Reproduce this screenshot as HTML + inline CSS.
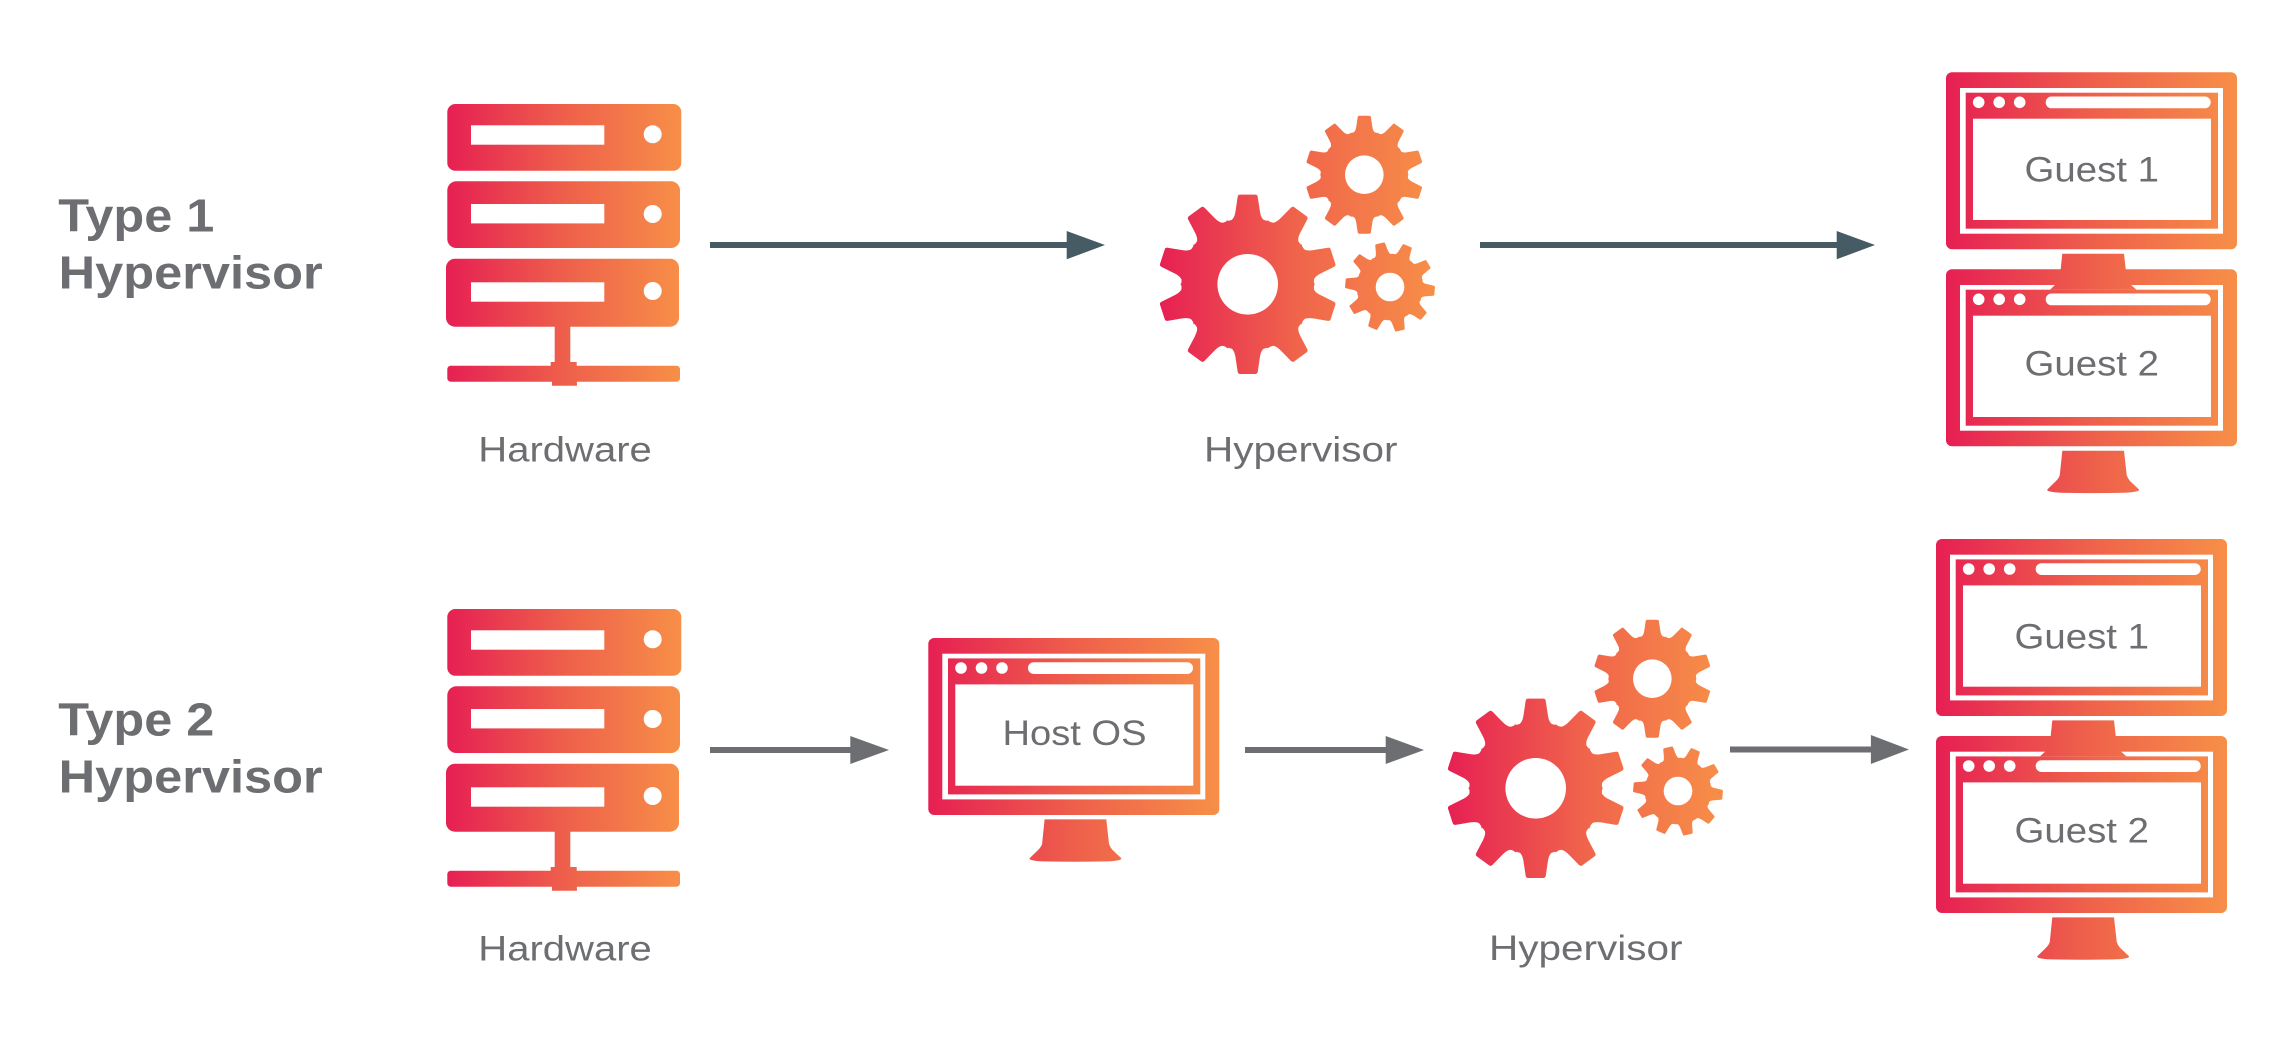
<!DOCTYPE html>
<html>
<head>
<meta charset="utf-8">
<title>Type 1 and Type 2 Hypervisor</title>
<style>
html,body{margin:0;padding:0;background:#fff;width:2296px;height:1042px;overflow:hidden}
svg{display:block}
text{font-family:"Liberation Sans",sans-serif;fill:#6d6e71}
.l{font-size:35px}
.t{font-size:46px;font-weight:bold}
</style>
</head>
<body>
<svg xmlns="http://www.w3.org/2000/svg" width="2296" height="1042" viewBox="0 0 2296 1042">
<defs>
<linearGradient id="gs" gradientUnits="userSpaceOnUse" x1="446" y1="0" x2="681" y2="0">
<stop offset="0" stop-color="#e61f53"/><stop offset=".5" stop-color="#ee5f4b"/><stop offset="1" stop-color="#f78f48"/>
</linearGradient>
<linearGradient id="gg" gradientUnits="userSpaceOnUse" x1="1158" y1="0" x2="1436" y2="0">
<stop offset="0" stop-color="#e61f53"/><stop offset=".5" stop-color="#f0644b"/><stop offset="1" stop-color="#f78f48"/>
</linearGradient>
<linearGradient id="gm" gradientUnits="userSpaceOnUse" x1="1946" y1="0" x2="2237" y2="0">
<stop offset="0" stop-color="#e61f53"/><stop offset=".5" stop-color="#ee5f4b"/><stop offset="1" stop-color="#f78f48"/>
</linearGradient>

<path id="tooth" d="M-.24,-.71C-.17,-.69 -.145,-.75 -.135,-.82L-.112,-.975Q-.108,-1 -.085,-1L.085,-1Q.108,-1 .112,-.975L.135,-.82C.145,-.75 .17,-.69 .24,-.71L0,0Z"/>
<g id="gear">
<circle r=".74"/>
<use href="#tooth"/>
<use href="#tooth" transform="rotate(36)"/>
<use href="#tooth" transform="rotate(72)"/>
<use href="#tooth" transform="rotate(108)"/>
<use href="#tooth" transform="rotate(144)"/>
<use href="#tooth" transform="rotate(180)"/>
<use href="#tooth" transform="rotate(216)"/>
<use href="#tooth" transform="rotate(252)"/>
<use href="#tooth" transform="rotate(288)"/>
<use href="#tooth" transform="rotate(324)"/>
</g>
<mask id="gm1" maskUnits="userSpaceOnUse" x="1140" y="100" width="320" height="300">
<g fill="#fff">
<use href="#gear" transform="translate(1247.7,284.3) scale(89.7)"/>
<use href="#gear" transform="translate(1364.3,174.7) scale(59)"/>
<use href="#gear" transform="translate(1390,287) rotate(-13) scale(44.8)"/>
</g>
<g fill="#000">
<circle cx="1247.7" cy="284.3" r="30.3"/>
<circle cx="1364.3" cy="174.7" r="19.3"/>
<circle cx="1390" cy="287" r="14.3"/>
</g>
</mask>
<g id="gears">
<rect x="1140" y="100" width="320" height="300" fill="url(#gg)" mask="url(#gm1)"/>
</g>

<g id="server">
<g fill="url(#gs)">
<rect x="447.3" y="104" width="234" height="66.7" rx="8"/>
<rect x="447.3" y="181.3" width="232.7" height="66.7" rx="9"/>
<rect x="446" y="258.7" width="233" height="68" rx="9"/>
<rect x="554.7" y="326" width="15.6" height="38"/>
<rect x="447.3" y="365.7" width="232.7" height="16" rx="3.5"/>
<path d="M550.7,362H576.7V375L577,385.7H552V375H550.7Z"/>
</g>
<g fill="#fff">
<rect x="471" y="125.3" width="133.3" height="19.4"/>
<rect x="471" y="204" width="133.3" height="19.4"/>
<rect x="471" y="282.3" width="133.3" height="19.4"/>
<circle cx="652.7" cy="134.3" r="9"/>
<circle cx="652.7" cy="214" r="9"/>
<circle cx="652.7" cy="291" r="9"/>
</g>
</g>

<g id="body">
<rect x="1946" y="72.3" width="291" height="177" rx="6" fill="url(#gm)"/>
<rect x="1960" y="88" width="263" height="145.7" fill="#fff"/>
<rect x="1965.7" y="92.7" width="252.3" height="136" fill="url(#gm)"/>
<rect x="1973" y="118.7" width="238" height="101.3" fill="#fff"/>
<circle cx="1978.7" cy="102.3" r="5.8" fill="#fff"/>
<circle cx="1999.2" cy="102.3" r="5.8" fill="#fff"/>
<circle cx="2019.7" cy="102.3" r="5.8" fill="#fff"/>
<rect x="2045.7" y="96.5" width="165" height="11.8" rx="5.9" fill="#fff"/>
</g>
<path id="stand" fill="url(#gm)" d="M2062.3,253.7H2124L2126.7,278Q2127.5,281 2130,284L2139,292.5Q2140,295 2125,295.7Q2093,296.5 2061,295.7Q2046,295 2047.3,292.5L2056,284Q2059,281 2059.8,278Z"/>
<path id="standTop" fill="url(#gm)" d="M2062.3,253.7H2124L2126.7,278Q2127.5,281 2130,284L2136.5,289.7H2050L2056,284Q2059,281 2059.8,278Z"/>

<g id="pair">
<use href="#body"/>
<use href="#body" y="197"/>
<use href="#standTop"/>
<use href="#stand" y="197"/>
</g>
</defs>

<!-- Titles -->
<text class="t" x="58.3" y="231.7" textLength="156" lengthAdjust="spacingAndGlyphs">Type 1</text>
<text class="t" x="58.7" y="288.7" textLength="264" lengthAdjust="spacingAndGlyphs">Hypervisor</text>
<text class="t" x="58.3" y="735.7" textLength="156" lengthAdjust="spacingAndGlyphs">Type 2</text>
<text class="t" x="58.7" y="792.7" textLength="264" lengthAdjust="spacingAndGlyphs">Hypervisor</text>

<!-- Type 1 -->
<use href="#server"/>
<text class="l" x="478.3" y="461.7" textLength="173.5" lengthAdjust="spacingAndGlyphs">Hardware</text>
<path fill="#465b63" d="M710,242H1066.7V231L1105,245L1066.7,259.3V248H710Z"/>
<use href="#gears"/>
<text class="l" x="1204" y="461.7" textLength="193.5" lengthAdjust="spacingAndGlyphs">Hypervisor</text>
<path fill="#465b63" d="M1480,242H1836.7V231L1875,245L1836.7,259.3V248H1480Z"/>
<use href="#pair"/>
<text class="l" x="2024.5" y="181.7" textLength="134.5" lengthAdjust="spacingAndGlyphs">Guest 1</text>
<text class="l" x="2024.5" y="375.7" textLength="134.5" lengthAdjust="spacingAndGlyphs">Guest 2</text>

<!-- Type 2 -->
<use href="#server" y="505"/>
<text class="l" x="478.3" y="960.7" textLength="173.5" lengthAdjust="spacingAndGlyphs">Hardware</text>
<path fill="#6d6e71" d="M710,747H850.3V736L889,750L850.3,764V753H710Z"/>
<g transform="translate(-1017.7,565.7)">
<use href="#body"/>
<use href="#stand"/>
</g>
<text class="l" x="1002.5" y="745" textLength="144" lengthAdjust="spacingAndGlyphs">Host OS</text>
<path fill="#6d6e71" d="M1245,747H1385.7V736L1424,750L1385.7,764V753H1245Z"/>
<g transform="translate(288,504)"><use href="#gears"/></g>
<text class="l" x="1489" y="960" textLength="193.5" lengthAdjust="spacingAndGlyphs">Hypervisor</text>
<path fill="#6d6e71" d="M1730,746.5H1870.9V735L1909,749.5L1870.9,764V752.5H1730Z"/>
<g transform="translate(-10,466.7)"><use href="#pair"/></g>
<text class="l" x="2014.5" y="648.4" textLength="134.5" lengthAdjust="spacingAndGlyphs">Guest 1</text>
<text class="l" x="2014.5" y="842.4" textLength="134.5" lengthAdjust="spacingAndGlyphs">Guest 2</text>
</svg>
</body>
</html>
